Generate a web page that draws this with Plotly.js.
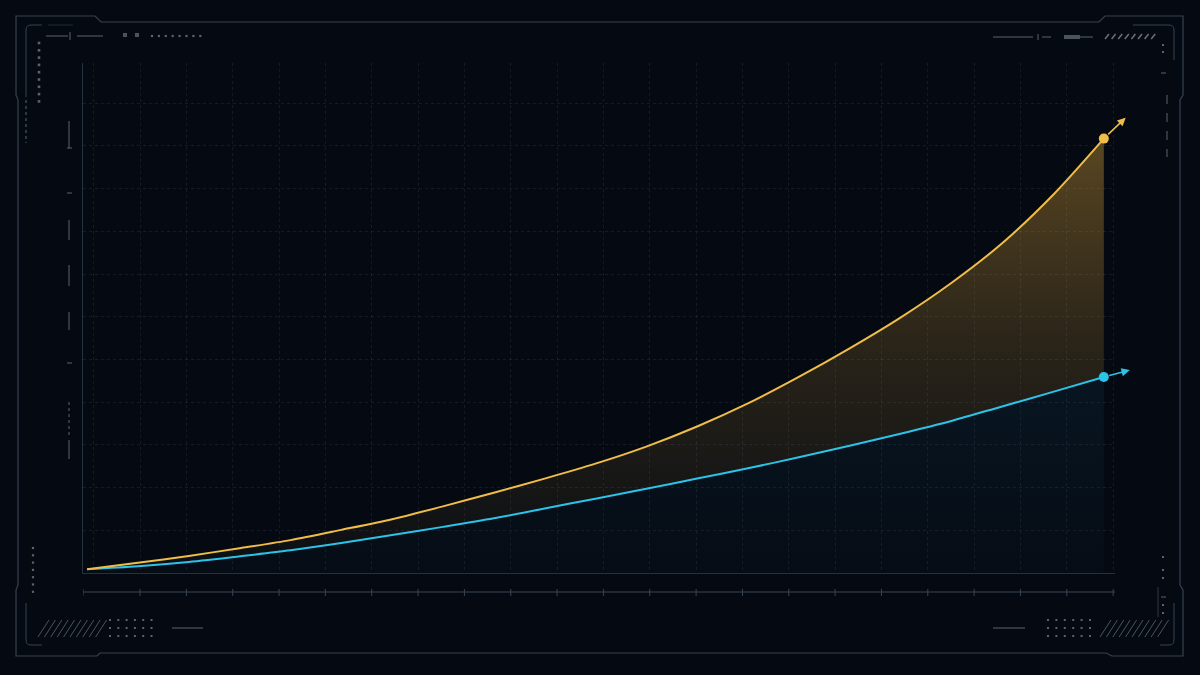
<!DOCTYPE html>
<html>
<head>
<meta charset="utf-8">
<script src="https://cdn.plot.ly/plotly-3.0.1.min.js"></script>
<style>
  html, body { margin: 0; padding: 0; background: #050a12; }
  #chart { width: 1200px; height: 675px; }
</style>
</head>
<body>
<div id="chart"></div>
<script>
// values (x in periods, y in arbitrary units)
const periods = [0, 1, 2, 3, 4, 5, 6, 7, 8, 9, 10, 11, 12, 13, 14, 15, 16, 17, 18, 19, 20];
const goldSeries = [0.09, 0.24, 0.40, 0.58, 0.77, 1.01, 1.26, 1.56, 1.88, 2.21, 2.56,
                    2.96, 3.43, 3.97, 4.59, 5.26, 5.98, 6.79, 7.72, 8.85, 10.17];
const cyanSeries = [0.09, 0.16, 0.26, 0.39, 0.53, 0.70, 0.89, 1.08, 1.28, 1.51, 1.74,
                    1.97, 2.21, 2.45, 2.71, 2.98, 3.26, 3.56, 3.90, 4.24, 4.59];

const GOLD = '#f0bd48';
const CYAN = '#2cc3e8';
const BG = '#050a12';
const FRAME = '#364150';
const DECO = '#59636f';

// plot area in pixels (for the HUD frame drawn around it)
const PL = 83, PR = 1115, PT = 63, PB = 573;
const X = px => (px - PL) / (PR - PL);
const Y = py => (PB - py) / (PB - PT);

const shapes = [];

function seg(x0, y0, x1, y1, color, width, dash) {
    shapes.push({
        type: 'line', xref: 'paper', yref: 'paper',
        x0: X(x0), y0: Y(y0), x1: X(x1), y1: Y(y1),
        line: { color: color || FRAME, width: width || 1, dash: dash || 'solid' },
        layer: 'below'
    });
}

function path(pts, color, width) {
    // pts: [[cmd, x, y, ...]]
    let d = '';
    for (const p of pts) {
        d += p[0];
        const nums = [];
        for (let i = 1; i < p.length; i += 2) nums.push(X(p[i]) + ',' + Y(p[i + 1]));
        d += nums.join(' ') + ' ';
    }
    shapes.push({
        type: 'path', xref: 'paper', yref: 'paper', path: d.trim(),
        line: { color: color || FRAME, width: width || 1 },
        layer: 'below'
    });
}

function box(cx, cy, size, color) {
    const h = size / 2;
    shapes.push({
        type: 'rect', xref: 'paper', yref: 'paper',
        x0: X(cx - h), x1: X(cx + h), y0: Y(cy + h), y1: Y(cy - h),
        line: { width: 0 }, fillcolor: color || DECO, layer: 'below'
    });
}

// outer frame
path([
    ['M', 16, 95], ['L', 16, 16], ['L', 95, 16], ['L', 101, 22], ['L', 1099, 22],
    ['L', 1105, 16], ['L', 1183, 16], ['L', 1183, 95], ['L', 1180, 100], ['L', 1180, 585],
    ['L', 1183, 590], ['L', 1183, 656], ['L', 1112, 656], ['L', 1106, 653], ['L', 100, 653],
    ['L', 97, 656], ['L', 16, 656], ['L', 16, 590], ['L', 18, 585], ['L', 18, 100], ['Z']
], FRAME, 1.2);

// inner corner brackets
path([['M', 26, 97], ['L', 26, 30], ['Q', 26, 25, 31, 25], ['L', 42, 25]], FRAME, 1);
seg(48, 25, 73, 25, '#1f2833', 1);
path([['M', 1133, 25], ['L', 1169, 25], ['Q', 1174, 25, 1174, 30], ['L', 1174, 60]], FRAME, 1);
path([['M', 26, 603], ['L', 26, 640], ['Q', 26, 645, 31, 645], ['L', 42, 645]], FRAME, 1);
path([['M', 1174, 603], ['L', 1174, 640], ['Q', 1174, 645, 1169, 645], ['L', 1160, 645]], FRAME, 1);

// top-left header marks
seg(46, 36, 68, 36, DECO, 1);
seg(70, 32, 70, 40, DECO, 1);
seg(77, 36, 103, 36, DECO, 1);
box(125, 35, 4, '#4a545f');
box(137, 35, 4, '#4a545f');
for (let i = 0; i < 8; i++) box(152 + i * 6.9, 36, 2.2, DECO);

// left column of squares
for (let i = 0; i < 9; i++) box(39, 43 + i * 7.3, 2.6, DECO);
seg(26, 100, 26, 143, DECO, 1, 'dot');

// left gauge segments
const leftSegs = [[121, 148], [220, 240], [265, 286], [312, 330], [440, 459]];
for (const s of leftSegs) seg(69, s[0], 69, s[1], DECO, 1);
seg(67, 148, 72, 148, DECO, 1);
seg(67, 193, 72, 193, DECO, 1);
seg(67, 363, 72, 363, DECO, 1);
seg(69, 402, 69, 435, DECO, 1, 'dot');

// bottom-left marks
for (let i = 0; i < 7; i++) box(33, 548 + i * 7.3, 2.2, DECO);
for (let i = 0; i < 10; i++) seg(38 + i * 6.4, 637, 49 + i * 6.4, 620, '#4a545f', 1);
for (let r = 0; r < 3; r++) for (let c = 0; c < 6; c++) box(110 + c * 8.3, 620 + r * 8, 2, DECO);
seg(172, 628, 203, 628, DECO, 1);

// top-right marks
seg(993, 37, 1033, 37, DECO, 1);
seg(1038, 34, 1038, 40, DECO, 1);
seg(1042, 37, 1060, 37, DECO, 1, 'dash');
shapes.push({
    type: 'rect', xref: 'paper', yref: 'paper',
    x0: X(1064), x1: X(1080), y0: Y(39), y1: Y(35),
    line: { width: 0 }, fillcolor: '#4a545f', layer: 'below'
});
seg(1080, 37, 1093, 37, DECO, 1);
for (let i = 0; i < 8; i++) seg(1105 + i * 6.6, 39, 1109 + i * 6.6, 34, '#6a7480', 1.4);
box(1163, 45, 2, DECO);
box(1163, 52, 2, DECO);
seg(1161, 73, 1166, 73, DECO, 1);
seg(1167, 95, 1167, 157, DECO, 1, 'dash');

// bottom-right marks
seg(993, 628, 1025, 628, DECO, 1);
for (let r = 0; r < 3; r++) for (let c = 0; c < 6; c++) box(1048 + c * 8.4, 620 + r * 8, 2, DECO);
for (let i = 0; i < 10; i++) seg(1100 + i * 6.4, 637, 1111 + i * 6.4, 620, '#4a545f', 1);
box(1163, 557, 2, DECO);
box(1163, 570, 2, DECO);
box(1163, 578, 2, DECO);
seg(1161, 597, 1166, 597, DECO, 1);
box(1163, 605, 2, DECO);
box(1163, 613, 2, DECO);
seg(1158, 587, 1158, 617, '#2d3743', 1);

// ruler under the plot, ticks follow the grid
const gridStart = 1.042, gridStep = 0.9115;
const xRange = [-0.08, 20.22];
seg(PL, 592, PR, 592, '#3a4553', 1);
const rulerTicks = [xRange[0]];
for (let v = gridStart; v <= xRange[1]; v += gridStep) rulerTicks.push(v);
for (const v of rulerTicks) {
    shapes.push({
        type: 'line', xref: 'x', yref: 'paper',
        x0: v, x1: v, y0: Y(589), y1: Y(596),
        line: { color: '#3a4553', width: 1 }, layer: 'below'
    });
}

// end dots and arrows
const n = periods.length - 1;
const annotations = [
    {
        x: periods[n] + 0.43, y: goldSeries[n] + 0.49,
        ax: periods[n], ay: goldSeries[n], axref: 'x', ayref: 'y',
        text: '', showarrow: true, arrowhead: 2, arrowsize: 1.1, arrowwidth: 1.5,
        arrowcolor: GOLD, startstandoff: 4
    },
    {
        x: periods[n] + 0.51, y: cyanSeries[n] + 0.16,
        ax: periods[n], ay: cyanSeries[n], axref: 'x', ayref: 'y',
        text: '', showarrow: true, arrowhead: 2, arrowsize: 1.1, arrowwidth: 1.5,
        arrowcolor: CYAN, startstandoff: 4
    }
];

const traces = [
    {
        x: periods, y: cyanSeries, type: 'scatter', mode: 'lines',
        line: { color: CYAN, width: 2, shape: 'spline', smoothing: 0.8 },
        fill: 'tozeroy',
        fillgradient: {
            type: 'vertical', start: 0, stop: 4.6,
            colorscale: [[0, 'rgba(30,120,170,0.02)'], [1, 'rgba(40,140,190,0.09)']]
        },
        hoverinfo: 'skip'
    },
    {
        x: periods, y: goldSeries, type: 'scatter', mode: 'lines',
        line: { color: GOLD, width: 2, shape: 'spline', smoothing: 0.8 },
        fill: 'tonexty',
        fillgradient: {
            type: 'vertical', start: 0.5, stop: 10.2,
            colorscale: [[0, 'rgba(200,150,60,0.04)'], [0.5, 'rgba(210,155,55,0.18)'], [1, 'rgba(230,170,60,0.38)']]
        },
        hoverinfo: 'skip'
    },
    {
        x: [periods[n]], y: [goldSeries[n]], type: 'scatter', mode: 'markers',
        marker: { color: GOLD, size: 10 }, hoverinfo: 'skip', cliponaxis: false
    },
    {
        x: [periods[n]], y: [cyanSeries[n]], type: 'scatter', mode: 'markers',
        marker: { color: CYAN, size: 10 }, hoverinfo: 'skip', cliponaxis: false
    }
];

const gridColor = 'rgba(110,135,160,0.14)';

const layout = {
    width: 1200, height: 675,
    paper_bgcolor: BG, plot_bgcolor: BG,
    margin: { l: PL, r: 1200 - PR, t: PT, b: 675 - PB, pad: 0 },
    showlegend: false,
    xaxis: {
        range: xRange, tick0: gridStart, dtick: gridStep,
        showgrid: true, gridcolor: gridColor, griddash: '3px,3px', gridwidth: 1,
        showline: true, linecolor: '#26313d', linewidth: 1.2,
        zeroline: false, showticklabels: false, ticks: '', fixedrange: true
    },
    yaxis: {
        range: [0, 11.94], tick0: 0, dtick: 1,
        showgrid: true, gridcolor: gridColor, griddash: '3px,3px', gridwidth: 1,
        showline: true, linecolor: '#26313d', linewidth: 1.2,
        zeroline: false, showticklabels: false, ticks: '', fixedrange: true
    },
    shapes: shapes,
    annotations: annotations
};

Plotly.newPlot('chart', traces, layout, { displayModeBar: false, staticPlot: true });
</script>
</body>
</html>
